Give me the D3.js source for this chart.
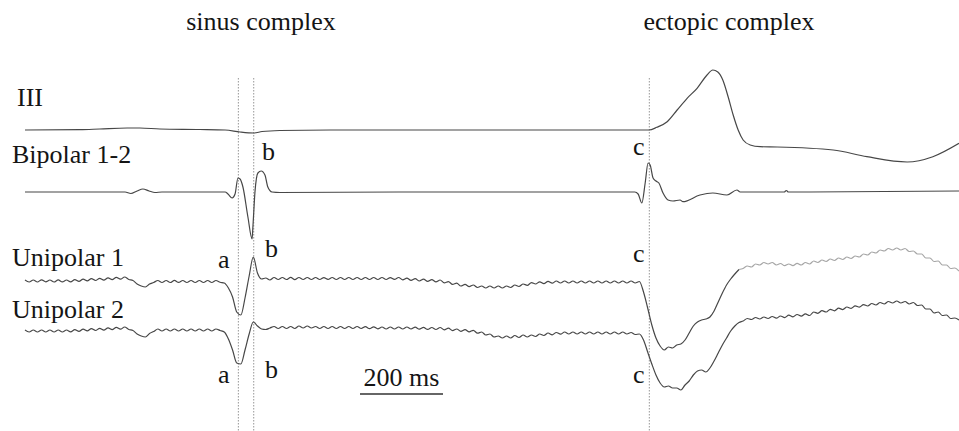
<!DOCTYPE html>
<html><head><meta charset="utf-8">
<script src="https://cdn.jsdelivr.net/npm/d3@7"></script>
<style>html,body{margin:0;padding:0;background:#fff;} svg{display:block;}</style>
</head><body><svg id="chart" width="959" height="431"></svg>
<script>
// ---------- data ----------
const leadNames = ["III", "Bipolar 1-2", "Unipolar 1", "Unipolar 2"];
const complexTitles = ["sinus complex", "ectopic complex"];
const markerTimesMs = [514, 551, 1504];
const scaleBarMs = 200;
const scaleBarLabel = "200 ms";
const sampleStepMs = 10;

// [time ms, deflection a.u. (up positive)]
const leadIII = [[0,0],[132,0.3],[180,1],[246,2],[277,2],[325,1],[421,0.5],[482,0],[518,-2],[552,-3],[571,-1.5],[614,-0.5],[735,0],[1481,0],[1503,0],[1522,2.7],[1547,8.3],[1571,20],[1595,31.7],[1619,41.7],[1643,55],[1657,60],[1669,58],[1681,50],[1694,33],[1706,15],[1718,0],[1730,-10],[1747,-15],[1771,-16.7],[1812,-17],[1947,-20],[2028,-26.7],[2125,-32],[2187,-26.7],[2250,-13.3]];

const bipolar12 = [[0,0],[241,0],[255,-1.5],[270,1],[284,3],[299,1],[313,-0.5],[330,0],[482,0],[489,-2],[499,-6],[506,-2],[513,14],[518,13],[525,5],[537,-25],[547,-47],[549,-35],[554,0],[561,19],[569,21],[578,17],[585,5],[595,0],[614,-0.5],[900,0],[1469,0],[1477,-2],[1486,-11],[1494,9],[1501,29],[1506,27],[1513,14],[1520,11],[1527,9],[1537,-1],[1549,-8],[1561,-9],[1578,-8],[1585,-9.7],[1626,-3],[1657,-1],[1691,-3],[1715,2],[1723,0],[1747,0],[1829,0],[1834,1.5],[1839,0],[2250,1]];

// uniform samples every 10 ms
const unipolar1 = [
 1,-1,1,-1,1.2,-0.8,1,-1,1.1,-0.9,
 1,-0.8,1.4,-0.4,1.9,0.1,2.3,0.5,2.7,0.9,
 3.1,1.4,3.6,1.8,4,1.5,0.5,-3,-5,-6,
 -3,-1.5,0.5,-1.5,0.5,-1.5,0.6,-1.4,0.5,-1.5,
 0.5,-1.5,0.5,-1.5,0.5,-1.5,0.5,-1.2,-2,-7,
 -16,-31,-34,-17,5,24,8,2,3,1,
 3.5,1.5,3.5,1.5,3.6,1.4,3.5,1.5,3.5,1.5,
 3.5,1.5,3.4,1.6,3.5,1.5,3.5,1.5,3.5,1.5,
 3.5,1.5,3.5,1.5,3.5,1.5,3.5,1.5,3.4,1.6,
 3.5,1.2,2.9,0.6,2.3,0,1.8,-0.4,1.4,-0.8,
 1,-1.8,-0.6,-3.4,-2.2,-5,-3.3,-5.6,-4,-6.5,
 -5,-7,-5,-7,-5,-7,-5,-6.5,-4,-5.5,
 -3,-4.3,-1.6,-3,-0.8,-2.6,-0.4,-2.2,0,-2,
 0,-2,0,-2,0,-2,0,-2,0,-2,
 0,-2,0,-2,0,-2,0,-2,-0.5,-11,
 -27,-44,-57,-65,-69,-66,-67,-64,-63,-59,
 -52,-45,-41,-39,-38,-36,-30,-21,-12,-4,
 2,7,11.5,12.5,15,14,17,16,18.5,17,
 18.5,16,17.5,15.3,17,15.3,17.6,16,18.5,17,
 20,18.5,21,19.5,22,20.5,23,21.5,24,22.5,
 25,24,27,26,29,28,31,30,32.5,31,
 33,31,32.5,29.5,30,27,27,23,23,19.5,
 20,16,16,12.5,13,10
];

const unipolar2 = [
 1,-1,1,-1,1,-1,1,-1,1,-1,
 1,-0.8,1.4,-0.4,1.9,0.1,2.3,0.5,2.7,0.9,
 3.1,1.4,3.6,1.8,4,1.5,0.5,-3,-5,-6,
 -2.5,-0.5,2,0,2,0,2,0,2,0,
 2,0,2,0,2,0,2,0.5,-1,-8,
 -19,-32,-33,-19,-3,9,5,2,1.5,3,
 4.5,2.5,4.5,2.5,4.5,2.5,5,3,5,3,
 4.5,2.5,4.5,2.5,4.5,2.5,4.5,2.5,4.5,2.5,
 4.5,2.5,4.3,2.3,4.2,2.2,4,2,4,2,
 4,2,4,2,3.8,1.8,3.6,1.6,3.5,1.5,
 3.5,1.2,2.8,0.4,2,-0.3,1.4,-0.9,0.7,-2.2,
 -1,-4,-3,-6,-5,-7,-5,-7,-4.5,-6.5,
 -4,-6,-4,-5.5,-3,-4.5,-2,-3.8,-1.5,-3.2,
 -1,-3,-1,-3,-1,-3,-1,-3,-1,-3,
 -1,-3,-1,-3,-1,-3,-1.5,-3.5,-3,-9,
 -21,-33,-44,-52,-56,-55,-57,-57,-59,-54,
 -50,-44,-40,-39,-41,-37,-30,-22,-14,-7,
 0,5,8.5,10,12.5,11.5,13.5,12,14,12.5,
 14.5,12.8,15,13.4,15.8,14.2,16.5,14.8,17.2,15.5,
 19,17.7,20.3,19,21.7,20.2,22.8,21.4,24,22.6,
 25.2,23.8,26.4,25,27.5,26,28.5,27,29.5,28,
 30,28,29.5,27,28.5,25.5,26,22,22,18,
 19,15.5,16,12.5,13,11
];
const unipolar1FadeFromMs = 1720;

const waveLetters = ["a", "b", "c"];

// ---------- layout ----------
const W = 959, H = 431;
const baselines = [130, 192, 281, 331];
const labelPos = [[17,106],[12,163],[12,266],[12,318]];
const titlePos = [[261,30],[729,30]];
// [lead index, letter index, x, y]
const letterPos = [[1,1,262,160],[1,2,633,155],[2,0,218,268],[2,1,265,257],[2,2,633,262],[3,0,218,383],[3,1,265,378],[3,2,633,383]];
const font = "'Liberation Serif','Times New Roman',Times,serif";
const fontSize = 26;
const traceColor = "#474747";
const textColor = "#151515";

const svg = d3.select("#chart");
const x = d3.scaleLinear().domain([0, 2250]).range([25, 959]);
const amp = d3.scaleLinear().domain([-100, 100]).range([100, -100]);
const line = d3.line().x(d => x(d[0])).y(d => amp(d[1])).curve(d3.curveMonotoneX);

// marker lines
svg.append("g").selectAll("line").data(markerTimesMs).join("line")
  .attr("x1", d => x(d)).attr("x2", d => x(d))
  .attr("y1", 78).attr("y2", H)
  .attr("stroke", "#8a8a8a").attr("stroke-width", 0.9)
  .attr("stroke-dasharray", "1.5,1.5");

const toSeries = arr => arr.map((v, i) => [i * sampleStepMs, v]);
const u1 = toSeries(unipolar1), u2 = toSeries(unipolar2);
const traces = [
  {lead: 0, pts: leadIII, color: traceColor},
  {lead: 1, pts: bipolar12, color: traceColor},
  {lead: 2, pts: u1.filter(d => d[0] <= unipolar1FadeFromMs), color: traceColor},
  {lead: 2, pts: u1.filter(d => d[0] >= unipolar1FadeFromMs), color: "#a6a6a6"},
  {lead: 3, pts: u2, color: traceColor}
];
svg.append("g").selectAll("path").data(traces).join("path")
  .attr("transform", d => `translate(0,${baselines[d.lead]})`)
  .attr("d", d => line(d.pts))
  .attr("fill", "none").attr("stroke", d => d.color).attr("stroke-width", 1.2)
  .attr("stroke-linejoin", "round");

// lead names
svg.append("g").selectAll("text").data(leadNames).join("text")
  .attr("x", (d, i) => labelPos[i][0]).attr("y", (d, i) => labelPos[i][1])
  .attr("font-family", font).attr("font-size", fontSize).attr("fill", textColor)
  .text(d => d);

// titles
svg.append("g").selectAll("text").data(complexTitles).join("text")
  .attr("x", (d, i) => titlePos[i][0]).attr("y", (d, i) => titlePos[i][1])
  .attr("text-anchor", "middle")
  .attr("font-family", font).attr("font-size", fontSize).attr("fill", textColor)
  .text(d => d);

// wave letters
svg.append("g").selectAll("text").data(letterPos).join("text")
  .attr("x", d => d[2]).attr("y", d => d[3])
  .attr("font-family", font).attr("font-size", fontSize).attr("fill", textColor)
  .text(d => waveLetters[d[1]]);

// scale bar
const sb0 = 807;
svg.append("line").attr("x1", x(sb0)).attr("x2", x(sb0 + scaleBarMs))
  .attr("y1", 394).attr("y2", 394).attr("stroke", "#333").attr("stroke-width", 1.3);
svg.append("text").attr("x", (x(sb0) + x(sb0 + scaleBarMs)) / 2).attr("y", 386)
  .attr("text-anchor", "middle").attr("font-family", font).attr("font-size", fontSize)
  .attr("fill", textColor).text(scaleBarLabel);
</script></body></html>
